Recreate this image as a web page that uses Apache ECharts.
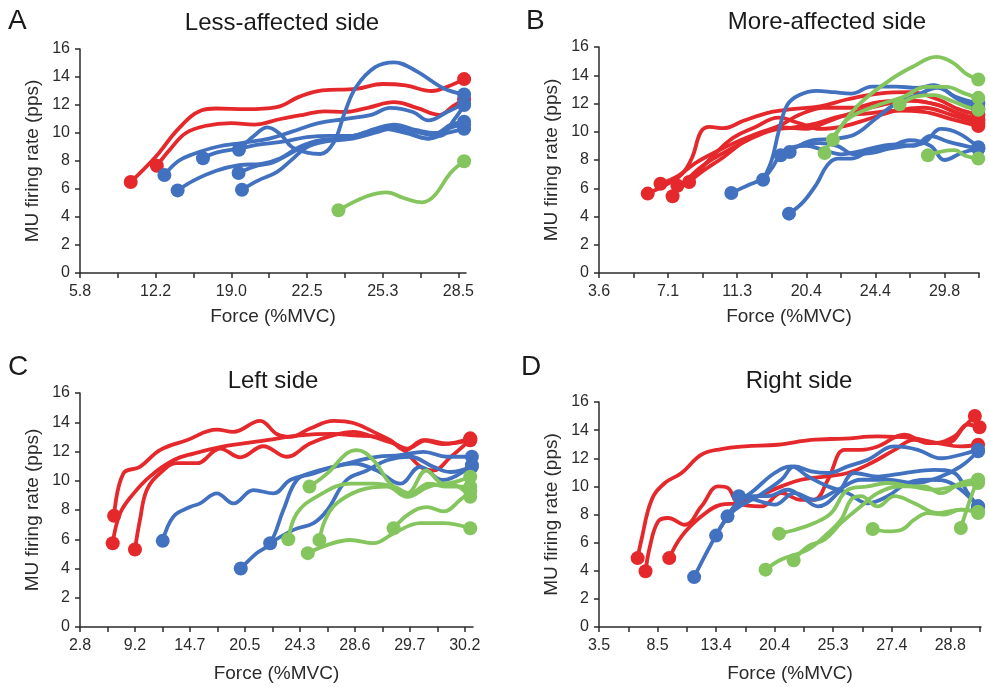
<!DOCTYPE html>
<html>
<head>
<meta charset="utf-8">
<title>MU firing rate vs force</title>
<script src="https://cdn.jsdelivr.net/npm/echarts@6/dist/echarts.min.js"></script>
<style>
  html, body { margin: 0; padding: 0; background: #fff; }
  #chart { width: 989px; height: 687px; }
</style>
</head>
<body>
<div id="chart"></div>
<script>
// x values are tick positions on each force axis (labels on every second tick)
var ticksA = ['5.8', '12.2', '19.0', '22.5', '25.3', '28.5'];
var ticksB = ['3.6', '7.1', '11.3', '20.4', '24.4', '29.8'];
var ticksC = ['2.8', '9.2', '14.7', '20.5', '24.3', '28.6', '29.7', '30.2'];
var ticksD = ['3.5', '8.5', '13.4', '20.4', '25.3', '27.4', '28.8'];

// A - less-affected side
var redA = [
  [[1.34,6.5],[2.0,8.3],[2.6,10.3],[3.2,11.6],[3.6,11.75],[4.4,11.7],[5.2,11.85],[5.8,12.6],[6.4,13.05],[7.3,13.15],[8.0,13.5],[8.6,13.4],[9.3,13.0],[9.7,13.3],[10.15,13.85]],
  [[2.03,7.66],[2.4,8.9],[2.8,10.0],[3.3,10.5],[4.0,10.7],[4.6,10.6],[5.3,11.0],[5.9,11.3],[6.45,11.55],[7.0,11.5],[7.6,11.8],[8.3,12.2],[8.9,11.8],[9.5,11.3],[9.85,11.9],[10.15,12.4]]
];
var blueA = [
  [[2.23,7.0],[2.6,8.0],[3.0,8.5],[3.6,9.0],[4.3,9.3],[5.0,9.6],[5.6,10.1],[6.3,10.7],[7.0,11.0],[7.7,11.3],[8.2,11.8],[8.8,11.5],[9.2,10.9],[9.7,11.5],[10.15,12.1]],
  [[2.58,5.9],[3.0,6.6],[3.6,7.3],[4.2,7.7],[4.8,7.8],[5.3,8.2],[5.8,9.0],[6.4,9.5],[7.0,9.6],[7.6,10.1],[8.1,10.4],[8.7,10.0],[9.2,9.6],[9.7,10.0],[10.15,10.3]],
  [[3.25,8.2],[3.6,8.6],[4.2,8.9],[4.8,9.2],[5.4,9.4],[6.0,9.7],[6.6,9.8],[7.2,9.8],[7.8,10.3],[8.3,10.6],[8.9,10.2],[9.4,10.0],[9.8,10.6],[10.15,10.8]],
  [[4.2,8.8],[4.6,9.8],[4.95,10.4],[5.3,9.9],[5.6,9.0],[6.0,8.6],[6.35,8.5],[6.7,9.3],[7.0,11.5],[7.3,13.3],[7.8,14.7],[8.3,15.05],[8.9,14.4],[9.6,13.2],[10.15,12.75]],
  [[4.19,7.14],[4.6,7.6],[5.1,7.9],[5.6,8.6],[6.1,9.3],[6.8,9.6],[7.4,9.9],[8.0,10.3],[8.6,10.0],[9.2,9.6],[9.7,10.3],[10.15,10.6]],
  [[4.28,5.95],[4.7,6.6],[5.2,7.2],[5.6,8.1],[6.0,9.0],[6.5,9.4],[7.2,9.6],[7.9,10.1],[8.4,10.4],[9.0,10.0],[9.5,9.8],[9.9,11.0],[10.15,12.0]]
];
var greenA = [
  [[6.83,4.48],[7.58,5.48],[8.11,5.76],[8.55,5.36],[9.04,5.05],[9.35,5.48],[9.79,7.14],[10.15,7.98]]
];

// B - more-affected side
var redB = [
  [[1.41,5.62],[1.9,6.2],[2.4,7.0],[2.7,8.2],[2.95,10.0],[3.2,10.35],[3.6,10.25],[4.2,10.8],[5.0,11.4],[5.6,11.6],[6.4,11.8],[7.2,12.3],[8.1,12.7],[9.0,12.8],[9.8,12.3],[10.4,11.6],[10.98,11.2]],
  [[1.78,6.32],[2.3,6.9],[2.8,7.8],[3.4,8.6],[4.0,9.3],[4.6,9.9],[5.2,10.4],[5.8,11.2],[6.5,11.7],[7.3,11.7],[8.1,12.1],[9.0,12.2],[9.8,11.9],[10.4,11.3],[10.98,10.9]],
  [[2.13,5.43],[2.5,6.5],[3.0,7.6],[3.6,8.5],[4.3,9.4],[5.0,10.1],[5.6,10.3],[6.3,10.6],[7.0,11.1],[7.8,11.3],[8.6,11.5],[9.4,11.4],[10.2,10.9],[10.98,10.4]],
  [[2.27,6.18],[2.8,7.0],[3.3,8.3],[3.9,9.6],[4.5,10.3],[5.2,11.0],[5.8,10.6],[6.4,10.2],[7.1,10.4],[7.8,10.9],[8.6,11.5],[9.4,11.7],[10.2,11.2],[10.98,10.6]],
  [[2.61,6.44],[3.0,7.2],[3.6,8.2],[4.2,9.3],[4.8,10.0],[5.3,10.3],[6.0,10.2],[6.6,10.7],[7.4,11.4],[8.2,11.9],[9.0,12.2],[9.8,11.9],[10.4,11.3],[10.98,10.8]]
];
var blueB = [
  [[3.83,5.66],[4.3,6.2],[4.75,6.7],[5.0,7.4],[5.26,8.4],[5.6,8.9],[6.0,9.0],[6.5,8.7],[7.0,8.4],[7.5,8.6],[8.0,8.9],[8.6,9.1],[9.1,9.0],[9.6,9.7],[10.1,9.3],[10.98,8.8]],
  [[4.75,6.6],[5.0,8.0],[5.2,10.0],[5.45,11.9],[5.8,12.6],[6.3,12.9],[6.8,12.8],[7.3,12.7],[7.9,13.2],[8.6,13.2],[9.2,13.1],[9.7,13.3],[10.3,12.5],[10.98,12.0]],
  [[5.52,8.57],[5.9,9.1],[6.4,9.2],[6.9,9.0],[7.4,8.4],[7.9,8.5],[8.4,8.8],[8.9,9.0],[9.4,9.2],[9.9,10.2],[10.4,9.9],[10.98,8.9]],
  [[5.5,4.2],[5.9,5.0],[6.3,6.3],[6.6,7.6],[6.9,8.1],[7.3,8.1],[7.8,8.6],[8.4,8.9],[9.0,9.4],[9.6,9.0],[10.0,8.0],[10.5,8.5],[10.98,8.8]],
  [[5.26,8.33],[5.7,8.9],[6.2,9.4],[6.8,9.5],[7.4,9.8],[8.0,10.9],[8.6,12.0],[9.2,12.6],[9.8,13.1],[10.4,12.3],[10.98,11.6]]
];
var greenB = [
  [[6.77,9.44],[7.45,11.75],[8.41,13.64],[9.08,14.6],[9.76,15.3],[10.24,14.9],[10.63,14.1],[10.98,13.7]],
  [[6.53,8.5],[7.16,10.8],[7.93,11.75],[8.8,12.46],[9.47,13.17],[10.05,13.17],[10.6,12.7],[10.98,12.4]],
  [[8.7,11.94],[9.2,12.5],[9.7,12.6],[10.2,12.2],[10.6,11.8],[10.98,11.56]],
  [[9.52,8.33],[9.9,8.6],[10.3,8.7],[10.6,8.3],[10.98,8.1]]
];

// C - left side
var redC = [
  [[1.24,7.6],[1.58,10.5],[2.18,10.95],[2.91,12.1],[3.88,12.77],[4.98,13.5],[5.58,13.34],[6.55,14.1],[7.16,13.2],[7.65,13.0],[8.37,13.57],[9.22,14.1],[9.95,13.95],[10.68,13.34],[11.29,12.77],[11.83,12.1],[12.5,12.77],[13.2,12.5],[14.2,12.9]],
  [[1.19,5.73],[1.46,7.77],[1.94,9.1],[2.55,10.3],[3.4,11.4],[4.13,11.86],[5.1,12.3],[5.95,12.55],[6.8,12.77],[8.0,13.1],[9.2,13.2],[9.95,13.1],[10.8,13.0],[11.65,12.3],[12.4,10.95],[12.86,10.7],[13.47,11.6],[14.2,12.8]],
  [[2.0,5.3],[2.18,7.3],[2.43,9.36],[2.91,10.5],[3.52,11.2],[4.25,11.2],[5.1,12.2],[5.83,11.6],[6.67,12.36],[7.52,11.64],[8.37,12.55],[9.2,13.1],[9.95,13.34],[10.68,13.0],[11.41,12.55],[11.9,12.2],[12.6,12.77],[13.35,12.55],[14.2,12.77]]
];
var blueC = [
  [[3.01,5.89],[3.4,7.55],[4.0,8.2],[4.37,8.45],[4.98,9.14],[5.58,8.45],[6.31,9.36],[7.04,9.14],[7.65,10.05],[8.5,10.5],[9.22,10.95],[9.95,11.18],[10.8,10.7],[11.65,9.8],[12.38,10.95],[13.2,10.05],[14.26,11.07]],
  [[5.85,4.0],[6.43,5.05],[6.92,5.73],[7.4,8.0],[7.89,10.05],[8.5,10.6],[9.22,10.95],[9.95,11.3],[10.8,11.64],[11.65,11.75],[12.5,11.98],[13.35,11.64],[14.26,11.64]],
  [[6.92,5.73],[7.77,6.64],[8.5,7.1],[9.0,8.0],[9.7,10.05],[10.44,10.7],[11.17,11.4],[12.0,11.64],[12.86,10.95],[13.47,10.6],[14.26,10.95]]
];
var greenC = [
  [[8.35,9.6],[9.0,10.5],[9.7,11.86],[10.07,12.1],[10.68,11.4],[11.29,9.8],[11.9,9.14],[12.6,10.7],[13.23,9.8],[14.2,10.27]],
  [[7.58,6.0],[7.89,7.77],[8.6,8.9],[9.83,9.8],[10.68,9.8],[11.41,9.6],[12.0,9.14],[12.7,9.8],[13.35,9.6],[14.2,9.6]],
  [[8.71,5.95],[8.92,7.3],[9.34,8.45],[10.2,9.36],[11.17,9.6],[11.9,8.9],[12.7,9.6],[13.47,9.8],[14.2,8.9]],
  [[8.29,5.05],[8.98,5.6],[9.83,5.95],[10.68,5.73],[11.41,6.4],[12.38,7.1],[13.2,7.1],[14.2,6.75]],
  [[11.41,6.75],[12.0,7.77],[12.62,8.2],[13.23,7.9],[13.84,8.7],[14.2,9.3]]
];

// D - right side
var redD = [
  [[1.32,4.9],[1.45,6.2],[1.8,9.05],[2.25,10.24],[2.82,10.95],[3.5,12.25],[4.18,12.65],[4.98,12.84],[6.11,12.96],[7.25,13.3],[8.39,13.4],[9.52,13.55],[10.66,13.44],[11.57,13.08],[12.36,12.84],[12.95,12.96]],
  [[1.59,3.96],[1.74,5.73],[2.02,7.5],[2.36,7.75],[2.93,7.27],[3.5,8.58],[4.07,10.0],[4.41,9.88],[4.75,8.8],[5.55,8.58],[6.23,9.52],[6.9,9.05],[7.36,9.05],[7.82,10.47],[8.39,12.6],[8.95,12.6],[9.52,12.84],[10.43,13.67],[11.23,13.08],[11.9,13.08],[12.48,14.26],[12.84,15.0]],
  [[2.4,4.9],[2.82,6.45],[3.5,7.87],[4.18,8.7],[4.75,8.8],[5.43,9.3],[6.23,10.0],[6.9,10.47],[7.7,10.7],[8.5,10.95],[9.3,11.66],[10.1,12.6],[10.77,13.3],[11.45,13.08],[12.14,13.55],[12.6,14.4],[13.0,14.2]]
];
var blueD = [
  [[3.25,3.55],[3.73,5.5],[4.18,7.16],[4.64,8.34],[5.43,9.3],[6.23,10.47],[6.68,11.42],[7.25,11.07],[7.82,10.95],[8.5,11.42],[9.18,11.9],[10.1,12.84],[10.89,12.6],[11.68,12.0],[12.36,12.25],[12.95,12.6]],
  [[4.0,6.5],[4.64,8.58],[5.32,9.76],[6.0,10.95],[6.57,11.42],[7.14,10.7],[7.82,10.0],[8.5,9.52],[9.18,8.8],[9.86,9.3],[10.55,10.24],[11.34,10.47],[12.02,10.24],[12.95,8.58]],
  [[4.39,7.87],[5.1,9.3],[5.77,9.3],[6.45,9.76],[6.9,9.3],[7.48,8.58],[8.16,9.52],[8.73,10.95],[9.52,10.7],[10.43,10.95],[11.45,11.18],[12.14,10.95],[12.6,9.52],[12.95,8.58]],
  [[4.78,9.3],[5.32,9.05],[6.0,8.7],[6.68,9.52],[7.36,9.05],[8.16,9.76],[8.95,10.47],[9.86,10.47],[10.77,10.24],[11.68,10.7],[12.36,11.42],[12.95,12.5]]
];
var greenD = [
  [[5.69,4.08],[6.23,4.8],[7.14,5.5],[7.7,6.45],[8.27,7.63],[8.61,9.05],[8.95,9.3],[9.52,8.58],[10.1,9.3],[10.77,8.8],[11.57,8.1],[12.36,8.34],[12.95,8.1]],
  [[6.65,4.74],[7.14,5.73],[7.7,6.2],[8.27,7.4],[8.95,8.58],[9.52,9.52],[10.32,10.0],[11.11,10.0],[11.68,9.52],[12.36,10.24],[12.95,10.47]],
  [[6.15,6.64],[6.68,6.9],[7.36,7.4],[7.93,8.1],[8.5,9.76],[9.18,10.0],[9.86,10.24],[10.66,10.0],[11.45,9.76],[12.14,10.0],[12.95,10.24]],
  [[9.35,6.97],[9.86,6.8],[10.32,6.9],[10.77,7.63],[11.23,8.1],[11.8,8.0],[12.36,8.34],[12.95,8.2]],
  [[12.36,7.04],[12.6,8.58],[12.84,10.0],[12.95,10.47]]
];

var RED = '#e5282b', BLUE = '#4171bf', GREEN = '#84c55e';
var FONT = 'Liberation Sans, Arial, sans-serif';
var INK = '#2b2b2b';

var panels = [
  { ticks: ticksA, max: 10.2, nTicks: 10, nameGap: 34, groups: [[redA, RED], [blueA, BLUE], [greenA, GREEN]],
    grid: { left: 80, top: 49, width: 386, height: 224 } },
  { ticks: ticksB, max: 11, nTicks: 11, nameGap: 34, groups: [[redB, RED], [blueB, BLUE], [greenB, GREEN]],
    grid: { left: 599, top: 47, width: 380, height: 226 } },
  { ticks: ticksC, max: 14.3, nTicks: 14, nameGap: 37, groups: [[redC, RED], [blueC, BLUE], [greenC, GREEN]],
    grid: { left: 80, top: 393, width: 393, height: 234 } },
  { ticks: ticksD, max: 13.05, nTicks: 13, nameGap: 37, groups: [[redD, RED], [blueD, BLUE], [greenD, GREEN]],
    grid: { left: 599, top: 402, width: 382, height: 225 } }
];

function range(n, step) {
  var out = [];
  for (var i = 0; i <= n; i += step) out.push(i);
  return out;
}

var grids = [], xAxes = [], yAxes = [], series = [];
var axisLine = { lineStyle: { color: INK, width: 1.5 } };

panels.forEach(function (p, k) {
  grids.push(p.grid);
  xAxes.push({
    type: 'value', gridIndex: k, min: 0, max: p.max,
    name: 'Force (%MVC)', nameLocation: 'middle', nameGap: p.nameGap,
    nameTextStyle: { fontSize: 19, color: INK, fontFamily: FONT },
    axisLine: axisLine,
    axisTick: { show: true, length: 5, lineStyle: { color: INK, width: 1.5 }, customValues: range(p.nTicks, 1) },
    axisLabel: {
      customValues: range((p.ticks.length - 1) * 2, 2),
      formatter: function (v) { return p.ticks[Math.round(v / 2)]; },
      fontSize: 16, color: INK, fontFamily: FONT, margin: 11
    },
    splitLine: { show: false }
  });
  yAxes.push({
    type: 'value', gridIndex: k, min: 0, max: 16, interval: 2,
    name: 'MU firing rate (pps)', nameLocation: 'middle', nameGap: 38,
    nameTextStyle: { fontSize: 19, color: INK, fontFamily: FONT },
    axisLine: axisLine,
    axisTick: { show: true, length: 5, lineStyle: { color: INK, width: 1.5 } },
    axisLabel: { fontSize: 16, color: INK, fontFamily: FONT, margin: 10 },
    splitLine: { show: false }
  });
  p.groups.forEach(function (g) {
    g[0].forEach(function (line) {
      var last = line.length - 1;
      series.push({
        type: 'line', xAxisIndex: k, yAxisIndex: k,
        data: line, smooth: 0.4,
        symbol: 'circle',
        symbolSize: function (v, params) {
          return (params.dataIndex === 0 || params.dataIndex === last) ? 14 : 0;
        },
        itemStyle: { color: g[1] },
        lineStyle: { color: g[1], width: 3.8 },
        silent: true
      });
    });
  });
});

var titleStyle = { fontSize: 24, fontWeight: 'normal', color: '#1a1a1a', fontFamily: FONT };
var letterStyle = { fontSize: 28, fontWeight: 'normal', color: '#1a1a1a', fontFamily: FONT };

var option = {
  animation: false,
  backgroundColor: '#fff',
  title: [
    { text: 'Less-affected side', left: 277, top: 6, textAlign: 'center', textStyle: titleStyle },
    { text: 'More-affected side', left: 822, top: 5, textAlign: 'center', textStyle: titleStyle },
    { text: 'Left side', left: 268, top: 364, textAlign: 'center', textStyle: titleStyle },
    { text: 'Right side', left: 794, top: 364, textAlign: 'center', textStyle: titleStyle },
    { text: 'A', left: 3, top: 2, textStyle: letterStyle },
    { text: 'B', left: 521, top: 2, textStyle: letterStyle },
    { text: 'C', left: 3, top: 348, textStyle: letterStyle },
    { text: 'D', left: 516, top: 348, textStyle: letterStyle }
  ],
  grid: grids,
  xAxis: xAxes,
  yAxis: yAxes,
  series: series
};

var myChart = echarts.init(document.getElementById('chart'));
myChart.setOption(option);
window.onresize = myChart.resize;
</script>
</body>
</html>
